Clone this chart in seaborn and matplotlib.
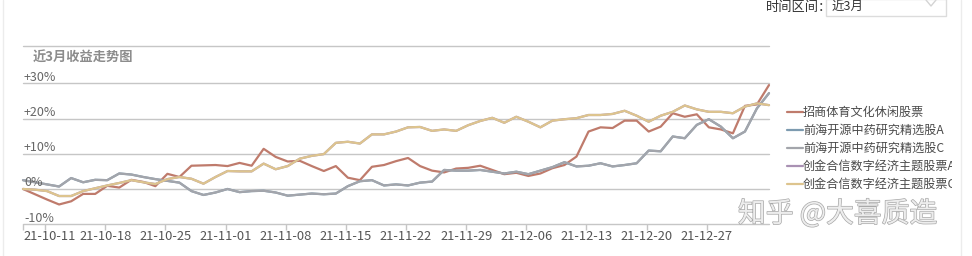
import matplotlib
matplotlib.use("Agg")
import matplotlib.pyplot as plt
import matplotlib.patheffects as pe
from matplotlib.patches import Rectangle
from matplotlib.lines import Line2D
from matplotlib.transforms import blended_transform_factory, offset_copy
import seaborn as sns
import pandas as pd

sns.set_theme(style="white")
plt.rcParams['font.family'] = ['Noto Sans CJK SC', 'DejaVu Sans']

# ---------------- data (percent returns, one point per trading day) ----------------
fund_names = ["招商体育文化休闲股票", "前海开源中药研究精选股A", "前海开源中药研究精选股C",
              "创金合信数字经济主题股票A", "创金合信数字经济主题股票C"]
fund_colors = ["#bf7b6c", "#7d9bb0", "#a3a5ab", "#a991b3", "#ddc48e"]

zhaoshang = [0, -1.5, -3.0, -4.4, -3.5, -1.4, -1.4, 0.9, 0.4, 2.6,
             2.0, 0.8, 4.3, 3.4, 6.6, 6.7, 6.8, 6.5, 7.4, 6.6,
             11.4, 9.1, 7.8, 8.0, 6.5, 5.1, 6.5, 3.2, 2.5, 6.3,
             6.8, 7.9, 8.8, 6.5, 5.2, 4.7, 5.8, 6.0, 6.6, 5.4,
             4.2, 4.6, 3.7, 4.4, 5.9, 6.8, 9.2, 16.3, 17.5, 17.3,
             19.4, 19.4, 16.3, 17.7, 21.5, 20.5, 21.2, 17.5, 16.9, 15.8,
             23.6, 24.0, 29.5]

qianhai_c = [2.5, 1.9, 1.3, 0.7, 3.1, 1.9, 2.6, 2.5, 4.4, 4.1,
             3.4, 2.8, 2.3, 1.8, -0.6, -1.7, -1.0, 0.0, -0.9, -0.6,
             -0.5, -1.0, -1.9, -1.6, -1.3, -1.5, -1.3, 0.8, 2.2, 2.5,
             1.0, 1.3, 1.0, 1.8, 2.1, 5.4, 5.2, 5.2, 5.4, 4.9,
             4.4, 4.9, 4.2, 5.2, 6.2, 7.6, 6.4, 6.6, 7.3, 6.4,
             6.8, 7.3, 10.9, 10.7, 14.9, 14.4, 18.2, 19.8, 17.7, 14.4,
             16.3, 22.9, 27.2]
qianhai_a = list(qianhai_c)  # hidden beneath the C share line

chuangjin_c = [0, -0.2, -0.6, -2.0, -2.0, -0.6, 0.2, 1.0, 1.7, 2.5,
               1.9, 1.4, 2.8, 3.4, 2.9, 1.5, 3.4, 5.1, 5.0, 5.0,
               7.2, 5.6, 6.5, 8.6, 9.4, 9.9, 13.1, 13.4, 12.9, 15.5,
               15.5, 16.3, 17.5, 17.6, 16.5, 16.9, 16.5, 18.1, 19.3, 20.2,
               18.8, 20.5, 19.1, 17.5, 19.4, 19.8, 20.1, 21.0, 21.0, 21.3,
               22.2, 20.8, 19.1, 20.8, 21.9, 23.7, 22.6, 21.9, 21.9, 21.5,
               23.4, 24.3, 23.8]
chuangjin_a = list(chuangjin_c)  # hidden beneath the C share line

tick_labels = ["21-10-11", "21-10-18", "21-10-25", "21-11-01", "21-11-08", "21-11-15",
               "21-11-22", "21-11-29", "21-12-06", "21-12-13", "21-12-20", "21-12-27"]
y_levels = [30, 20, 10, 0, -10]
y_labels = ["+30%", "+20%", "+10%", "0%", "-10%"]

series = [zhaoshang, qianhai_a, qianhai_c, chuangjin_a, chuangjin_c]
frames = []
for name, vals in zip(fund_names, series):
    frames.append(pd.DataFrame({"day": range(len(vals)), "ret": vals, "fund": name}))
df = pd.concat(frames, ignore_index=True)

# ---------------- figure ----------------
W, H = 972, 256
fig = plt.figure(figsize=(W / 100, H / 100), dpi=100)
fig.patch.set_facecolor("white")

def fx(px):
    return px / W

def fy(py):
    return 1 - py / H

ax_left, ax_right = 23, 769
ax_top, ax_bot = 83.3, 224.2
ax = fig.add_axes([fx(ax_left), fy(ax_bot), fx(ax_right - ax_left), (ax_bot - ax_top) / H])
ax.set_facecolor("none")

sns.lineplot(data=df, x="day", y="ret", hue="fund", hue_order=fund_names,
             palette=dict(zip(fund_names, fund_colors)), linewidth=1.6,
             legend=False, ax=ax, clip_on=False)

n = len(zhaoshang)
ax.set_xlim(0, n - 1)
ax.set_ylim(-10, 30)
for s in ax.spines.values():
    s.set_visible(False)

for lv in y_levels:
    ax.axhline(lv, color="#c6c6c6", lw=1.0, zorder=0, clip_on=False)

# y labels sitting just above gridlines
ytr = offset_copy(blended_transform_factory(fig.transFigure, ax.transData), fig=fig, x=0, y=6, units="dots")
for lv, lab in zip(y_levels, y_labels):
    ax.text(fx(24), lv, lab, transform=ytr, fontsize=9, color="#666666", va="center", ha="left")

# x ticks
tick_pos = [1.83 + 5 * k for k in range(len(tick_labels))]
ax.set_xticks([0] + tick_pos)
ax.set_yticks([])
ax.tick_params(axis="x", direction="out", length=4, width=1, color="#c6c6c6", labelbottom=False, bottom=True)
ax.set_xlabel("")
ax.set_ylabel("")
xtr = blended_transform_factory(ax.transData, fig.transFigure)
for i, (p, lab) in enumerate(zip(tick_pos, tick_labels)):
    if i == 0:
        ax.text(0.05, fy(236), lab, transform=xtr, fontsize=9.3, color="#555555", ha="left", va="center")
    else:
        ax.text(p, fy(236), lab, transform=xtr, fontsize=9.3, color="#555555", ha="center", va="center")

# title and frame
fig.text(fx(33), fy(58), "近3月收益走势图", fontsize=9.5, fontweight="bold", color="#8c8c8c", va="center", ha="left")
fig.add_artist(Line2D([fx(23), fx(769)], [fy(46), fy(46)], color="#c6c6c6", lw=1.0))
fig.add_artist(Line2D([fx(3), fx(3)], [0, 1], color="#ececec", lw=1.0))
fig.add_artist(Line2D([fx(961), fx(961)], [0, 1], color="#ececec", lw=1.0))

# top-right time selector
fig.text(fx(766), fy(8), "时间区间：", fontsize=9.5, color="#333333", va="center", ha="left")
fig.add_artist(Rectangle((fx(826), fy(16)), fx(120), 17 / H, fill=False, edgecolor="#dcdcdc", lw=1.0))
fig.text(fx(832), fy(6), "近3月", fontsize=9, color="#333333", va="center", ha="left")
fig.add_artist(Line2D([fx(926), fx(931), fx(936)], [fy(0), fy(6), fy(0)], color="#d4d4d4", lw=1.0))

# legend (manual, clipped at right like the original)
clip_rect = Rectangle((0, 0), fx(952), 1, transform=fig.transFigure, visible=False)
fig.add_artist(clip_rect)
leg_y = [112.3, 130.2, 148.2, 166.1, 184.0]
for name, col, yy in zip(fund_names, fund_colors, leg_y):
    fig.add_artist(Line2D([fx(787), fx(803)], [fy(yy), fy(yy)], color=col, lw=1.6))
    t = fig.text(fx(803), fy(yy), name, fontsize=8.7, color="#4a4a4a", va="center", ha="left")
    t.set_clip_path(clip_rect)
    t.set_clip_on(True)

# watermark
fig.text(fx(738), fy(214), "知乎 @大喜质造", fontsize=20, color="#ededed", va="center", ha="left",
         path_effects=[pe.withStroke(linewidth=1.0, foreground="#a8a8a8")], zorder=5)

fig.savefig("out.png", dpi=100, facecolor="white")
